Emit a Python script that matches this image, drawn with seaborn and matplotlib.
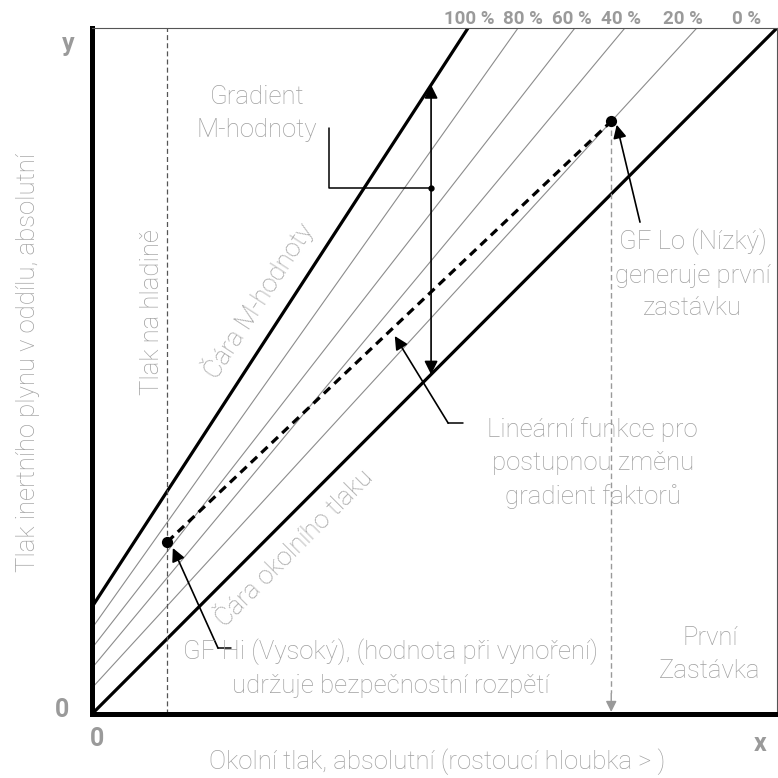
import numpy as np
import pandas as pd
import matplotlib
matplotlib.use('Agg')
import matplotlib.pyplot as plt
import seaborn as sns

# gradient factor lines: where each one meets the left axis and the top edge
gf_labels = ['100 %', '80 %', '60 %', '40 %', '20 %', '0 %']
gf_left_y = [15.6, 12.5, 9.6, 6.7, 3.8, 0.0]
gf_top_x = [54.9, 62.2, 70.5, 77.8, 88.3, 100.0]
gf_label_x = [55.0, 62.9, 70.1, 77.2, 86.3, 95.5]

surface_x = 10.9
gf_hi = [11.0, 25.1]
gf_lo = [75.8, 86.4]
gradient_x = 49.5

sns.set_theme(style='white')
plt.rcParams['font.family'] = ['Roboto', 'DejaVu Sans']

GRAY = '#a0a0a0'
fs = 18.5

rows = []
for lab, y0, xt in zip(gf_labels, gf_left_y, gf_top_x):
    rows.append({'gf': lab, 'x': 0.0, 'y': y0})
    rows.append({'gf': lab, 'x': xt, 'y': 100.0})
lines = pd.DataFrame(rows)
thick = lines[lines.gf.isin(['100 %', '0 %'])]
thin = lines[~lines.gf.isin(['100 %', '0 %'])]

fig = plt.figure(figsize=(7.78, 7.78), dpi=100)
ax = fig.add_axes([92 / 778, 64 / 778, 685 / 778, 686 / 778])

sns.lineplot(data=thin, x='x', y='y', units='gf', estimator=None, color='#8c8c8c',
             lw=0.8, ax=ax, legend=False)
sns.lineplot(data=thick, x='x', y='y', units='gf', estimator=None, color='black',
             lw=2.3, ax=ax, legend=False)

# surface pressure
ax.plot([surface_x, surface_x], [0, 100], color='#555555', lw=0.9, ls=(0, (4, 2.5)))

# linear function between GF Hi and GF Lo
ax.plot([gf_hi[0], gf_lo[0]], [gf_hi[1], gf_lo[1]], color='black', lw=2.3,
        ls=(0, (2.7, 1.8)))
pts = pd.DataFrame({'x': [gf_hi[0], gf_lo[0]], 'y': [gf_hi[1], gf_lo[1]]})
sns.scatterplot(data=pts, x='x', y='y', color='black', s=65, zorder=5, ax=ax,
                edgecolor='black', linewidth=0)

# gray dashed drop to first stop
ax.plot([gf_lo[0], gf_lo[0]], [gf_lo[1], 3], color='#999999', lw=1.0, ls=(0, (4, 2.5)))
ax.annotate('', xy=(gf_lo[0], 0.3), xytext=(gf_lo[0], 3),
            arrowprops=dict(arrowstyle='-|>', color='#999999', lw=1.0,
                            mutation_scale=16, shrinkA=0, shrinkB=0))

# M-value gradient double arrow
m_slope = (100 - gf_left_y[0]) / gf_top_x[0]
m_y = gf_left_y[0] + m_slope * gradient_x
ax.annotate('', xy=(gradient_x, m_y), xytext=(gradient_x, gradient_x),
            arrowprops=dict(arrowstyle='<|-|>', color='black', lw=1.2,
                            mutation_scale=20, shrinkA=0, shrinkB=0))
ax.plot([34.6, 34.6, gradient_x], [85.4, 76.7, 76.7], color='black', lw=1.1)
ax.plot([gradient_x], [76.7], 'o', color='black', ms=3.5)

# leaders with arrowheads
arrow = dict(arrowstyle='-|>', color='black', lw=1.2, mutation_scale=20,
             shrinkA=0, shrinkB=0)
ax.annotate('', xy=(76.6, 85.9), xytext=(80.0, 71.7), arrowprops=arrow)
ax.plot([54.2, 52.0], [42.4, 42.4], color='black', lw=1.1)
ax.annotate('', xy=(44.2, 55.1), xytext=(52.0, 42.4), arrowprops=arrow)
ax.plot([20.3, 18.4], [9.6, 9.6], color='black', lw=1.1)
ax.annotate('', xy=(11.8, 24.2), xytext=(18.4, 9.6), arrowprops=arrow)

ax.set_xlim(0, 100)
ax.set_ylim(0, 100)
ax.set_xticks([])
ax.set_yticks([])
ax.set_xlabel('')
ax.set_ylabel('')
for side in ['left', 'bottom']:
    ax.spines[side].set_color('black')
    ax.spines[side].set_linewidth(3.6)
for side in ['top', 'right']:
    ax.spines[side].set_color('#555555')
    ax.spines[side].set_linewidth(0.8)

# texts
for lab, lx in zip(gf_labels, gf_label_x):
    ax.text(lx, 101.3, lab, ha='center', va='center', color='#9a9a9a',
            fontsize=13.5, fontweight='bold', clip_on=False)

big = dict(color='#9a9a9a', fontsize=18, fontweight='bold', ha='center', va='center',
           clip_on=False)
ax.text(-3.5, 97.6, 'y', **big)
ax.text(97.5, -4.4, 'x', **big)
ax.text(-4.4, 0.6, '0', **big)
ax.text(0.7, -3.6, '0', **big)

txt = dict(color=GRAY, fontsize=fs, fontweight='light', ha='center', va='center',
           clip_on=False, linespacing=1.45)
ax.text(-9.3, 51.2, 'Tlak inertního plynu v oddílu, absolutní', rotation=90, **txt)
ax.text(50.4, -7.0, 'Okolní tlak, absolutní (rostoucí hloubka > )', **txt)
ax.text(24.1, 87.5, 'Gradient\nM-hodnoty', **txt)
ax.text(8.8, 58.6, 'Tlak na hladině', rotation=90, **txt)
ax.text(24.2, 60.3, 'Čára M-hodnoty', rotation=57, **txt)
ax.text(29.6, 24.2, 'Čára okolního tlaku', rotation=45, **txt)
ax.text(87.7, 64.1, 'GF Lo (Nízký)\ngeneruje první\nzastávku', **txt)
ax.text(73.1, 36.6, 'Lineární funkce pro\npostupnou změnu\ngradient faktorů', **txt)
ax.text(43.6, 6.7, 'GF Hi (Vysoký), (hodnota při vynoření)\nudržuje bezpečnostní rozpětí', **txt)
ax.text(90.2, 8.7, 'První\nZastávka', **txt)

fig.savefig('out.png', dpi=100)
